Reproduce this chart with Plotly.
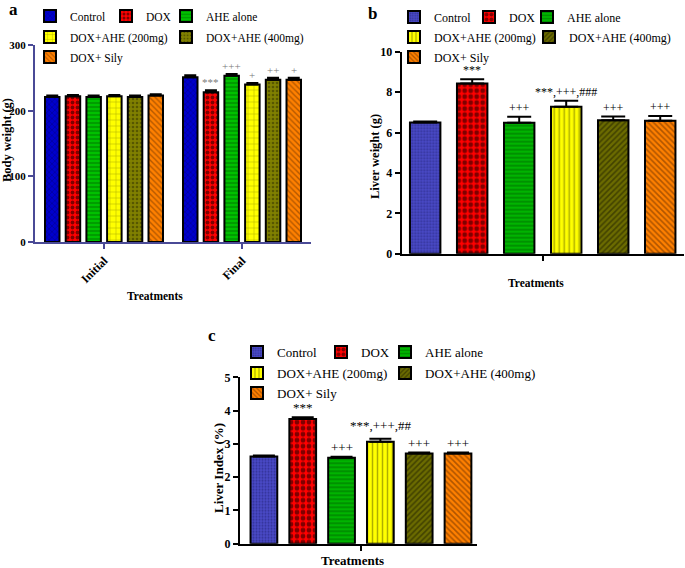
import plotly.graph_objects as go

W, H = 685, 568

# ---------------- data ----------------
groups = ["Control", "DOX", "AHE alone", "DOX+AHE (200mg)", "DOX+AHE (400mg)", "DOX+ Sily"]

# panel a: body weight (g)
times = ["Initial", "Final"]
bw_initial = [221, 222, 221, 222, 221, 223]
bw_initial_err = [2, 2, 2, 2, 2, 2]
bw_final = [251, 228, 253, 240, 247, 247]
bw_final_err = [3, 3, 3, 2, 3, 3]
bw_final_sig = ["", "***", "+++", "+", "++", "+"]

# panel b: liver weight (g)
liver_weight = [6.50, 8.43, 6.48, 7.27, 6.61, 6.58]
liver_weight_err = [0.05, 0.20, 0.30, 0.30, 0.18, 0.24]
liver_weight_sig = ["", "***", "+++", "***,+++,###", "+++", "+++"]

# panel c: liver index (%)
liver_index = [2.62, 3.75, 2.58, 3.06, 2.71, 2.71]
liver_index_err = [0.03, 0.05, 0.03, 0.09, 0.03, 0.03]
liver_index_sig = ["", "***", "+++", "***,+++,##", "+++", "+++"]

# ---------------- styles ----------------
SERIF = "Liberation Serif"
style_a = [
    dict(bg="#0000cc", fg="#000060", shape="x", size=4, sol=0.3),
    dict(bg="#ff0000", fg="#000000", shape=".", size=5, sol=0.45),
    dict(bg="#00c000", fg="#005a00", shape="-", size=4, sol=0.35),
    dict(bg="#ffff00", fg="#6e6e00", shape="+", size=6, sol=0.18),
    dict(bg="#808000", fg="#2e2e00", shape=".", size=4, sol=0.35),
    dict(bg="#ff8000", fg="#6a3000", shape="\\", size=4, sol=0.35),
]
style_bc = [
    dict(bg="#4a4ac8", fg="#1a1a66", shape=".", size=3, sol=0.4),
    dict(bg="#ff0000", fg="#000000", shape=".", size=6, sol=0.5),
    dict(bg="#00b400", fg="#004e00", shape="-", size=4, sol=0.35),
    dict(bg="#ffff00", fg="#5e5e00", shape="|", size=5, sol=0.3),
    dict(bg="#6b6b00", fg="#1a1a00", shape="/", size=4, sol=0.4),
    dict(bg="#ff8000", fg="#602a00", shape="\\", size=4, sol=0.4),
]

# legend item positions (text left x, row centre y) in pixels
leg_a = [(68, 16), (144, 16), (204, 16), (68, 37), (204, 37), (68, 57)]
leg_b = [(432, 17), (507, 17), (565, 17), (432, 37), (567, 37), (432, 57)]
leg_c = [(275, 352), (359, 352), (423, 352), (275, 373), (423, 373), (275, 393)]

def px(x):
    return x / W

def py(y):
    return 1 - y / H

fig = go.Figure()
layout = {}
annotations = []

def add_legend(n, x_text, y_center, size):
    key = "legend" if n == 1 else f"legend{n}"
    layout[key] = dict(
        x=px(x_text - 38), y=py(y_center), xanchor="left", yanchor="middle",
        bgcolor="rgba(0,0,0,0)", borderwidth=0,
        font=dict(family=SERIF, size=size, color="black"),
        itemwidth=30,
    )
    return key

# ---------- panel a ----------
wa, sa = 0.105, 0.15
for i, g in enumerate(groups):
    st = style_a[i]
    lk = add_legend(i + 1, *leg_a[i], 11.5)
    fig.add_trace(go.Bar(
        x=times, y=[bw_initial[i], bw_final[i]], name=g,
        xaxis="x", yaxis="y", legend=lk,
        width=wa, offset=(i - 2.5) * sa - wa / 2,
        marker=dict(color=st["bg"], line=dict(color="black", width=2),
                    pattern=dict(shape=st["shape"], fgcolor=st["fg"], bgcolor=st["bg"],
                                 size=st["size"], solidity=st["sol"], fillmode="overlay")),
        error_y=dict(type="data", symmetric=False,
                     array=[bw_initial_err[i], bw_final_err[i]], arrayminus=[0, 0],
                     color="black", thickness=2, width=6),
    ))
    if bw_final_sig[i]:
        annotations.append(dict(
            x=1 + (i - 2.5) * sa, y=bw_final[i] + bw_final_err[i], xref="x", yref="y",
            text=bw_final_sig[i], showarrow=False, yanchor="bottom",
            font=dict(family=SERIF, size=11, color="#7a7a7a")))

# ---------- panel b ----------
wb, sb = 0.108, 0.1667
for i, g in enumerate(groups):
    st = style_bc[i]
    lk = add_legend(7 + i, *leg_b[i], 12)
    fig.add_trace(go.Bar(
        x=[0], y=[liver_weight[i]], name=g,
        xaxis="x2", yaxis="y2", legend=lk,
        width=wb, offset=(i - 2.5) * sb - wb / 2,
        marker=dict(color=st["bg"], line=dict(color="black", width=2),
                    pattern=dict(shape=st["shape"], fgcolor=st["fg"], bgcolor=st["bg"],
                                 size=st["size"], solidity=st["sol"], fillmode="overlay")),
        error_y=dict(type="data", symmetric=False, array=[liver_weight_err[i]], arrayminus=[0],
                     color="black", thickness=2, width=12),
    ))
    if liver_weight_sig[i]:
        annotations.append(dict(
            x=(i - 2.5) * sb, y=liver_weight[i] + liver_weight_err[i], xref="x2", yref="y2",
            text=liver_weight_sig[i], showarrow=False, yanchor="bottom",
            font=dict(family=SERIF, size=12, color="black")))

# ---------- panel c ----------
wc, sc = 0.113, 0.164
for i, g in enumerate(groups):
    st = style_bc[i]
    lk = add_legend(13 + i, *leg_c[i], 13)
    fig.add_trace(go.Bar(
        x=[0], y=[liver_index[i]], name=g,
        xaxis="x3", yaxis="y3", legend=lk,
        width=wc, offset=(i - 2.5) * sc - wc / 2,
        marker=dict(color=st["bg"], line=dict(color="black", width=2),
                    pattern=dict(shape=st["shape"], fgcolor=st["fg"], bgcolor=st["bg"],
                                 size=st["size"], solidity=st["sol"], fillmode="overlay")),
        error_y=dict(type="data", symmetric=False, array=[liver_index_err[i]], arrayminus=[0],
                     color="black", thickness=2, width=11),
    ))
    if liver_index_sig[i]:
        annotations.append(dict(
            x=(i - 2.5) * sc, y=liver_index[i] + liver_index_err[i], xref="x3", yref="y3",
            text=liver_index_sig[i], showarrow=False, yanchor="bottom",
            yshift=4 if "," in liver_index_sig[i] else 0,
            font=dict(family=SERIF, size=13, color="black")))

# ---------- axes ----------
AX_A = "#4a4a96"
tick_common = dict(ticks="outside", ticklen=5, showgrid=False, zeroline=False, showline=True)

layout["xaxis"] = dict(domain=[px(35), px(311)], anchor="y", type="category",
                       range=[-0.5, 1.5], linecolor=AX_A, linewidth=2, tickcolor=AX_A,
                       tickwidth=2, tickangle=-45,
                       tickfont=dict(family=SERIF, size=12, color="black", weight="bold"),
                       **tick_common)
layout["yaxis"] = dict(domain=[py(242), py(45)], anchor="x", range=[0, 300],
                       tickvals=[0, 100, 200, 300], linecolor=AX_A, linewidth=2,
                       tickcolor=AX_A, tickwidth=2,
                       tickfont=dict(family=SERIF, size=11, color="black", weight="bold"),
                       **tick_common)
layout["xaxis2"] = dict(domain=[px(401.7), px(683.7)], anchor="y2", range=[-0.5, 0.5],
                        tickvals=[0], ticktext=[""], linecolor="black", linewidth=2,
                        tickcolor="black", tickwidth=2, **tick_common)
layout["yaxis2"] = dict(domain=[py(253.7), py(51.7)], anchor="x2", range=[0, 10],
                        tickvals=[0, 2, 4, 6, 8, 10], linecolor="black", linewidth=2,
                        tickcolor="black", tickwidth=2,
                        tickfont=dict(family=SERIF, size=12, color="black", weight="bold"),
                        **tick_common)
layout["xaxis3"] = dict(domain=[px(240), px(476.7)], anchor="y3", range=[-0.511, 0.489],
                        tickvals=[0], ticktext=[""], linecolor="black", linewidth=2,
                        tickcolor="black", tickwidth=2, **tick_common)
layout["yaxis3"] = dict(domain=[py(543.7), py(377.3)], anchor="x3", range=[0, 5],
                        tickvals=[0, 1, 2, 3, 4, 5], linecolor="black", linewidth=2,
                        tickcolor="black", tickwidth=2,
                        tickfont=dict(family=SERIF, size=12, color="black", weight="bold"),
                        **tick_common)

# ---------- titles & panel labels ----------
def txt(x, y, s, size, angle=0, xanchor="center"):
    annotations.append(dict(x=px(x), y=py(y), xref="paper", yref="paper", text=f"<b>{s}</b>",
                            showarrow=False, textangle=angle, xanchor=xanchor, yanchor="middle",
                            font=dict(family=SERIF, size=size, color="black")))

txt(155, 296, "Treatments", 11.5)
txt(536, 283, "Treatments", 11.5)
txt(352, 560, "Treatments", 13)
txt(7, 140, "Body weight (g)", 12.5, -90)
txt(375, 157, "Liver weight (g)", 12.5, -90)
txt(218, 468, "Liver Index (%)", 13, -90)
txt(13, 10, "a", 17)
txt(372, 13, "b", 17)
txt(212, 335, "c", 17)

layout.update(dict(
    width=W, height=H, autosize=False,
    margin=dict(l=0, r=0, t=0, b=0, pad=0, autoexpand=False),
    font=dict(family=SERIF, color="black"),
    paper_bgcolor="white", plot_bgcolor="white",
    barmode="overlay", showlegend=True,
    annotations=annotations,
))
fig.update_layout(**layout)
fig.write_html("out.html",
               config={"displayModeBar": False, "staticPlot": True},
               post_script="document.body.style.margin='0px';document.body.style.overflow='hidden';")
